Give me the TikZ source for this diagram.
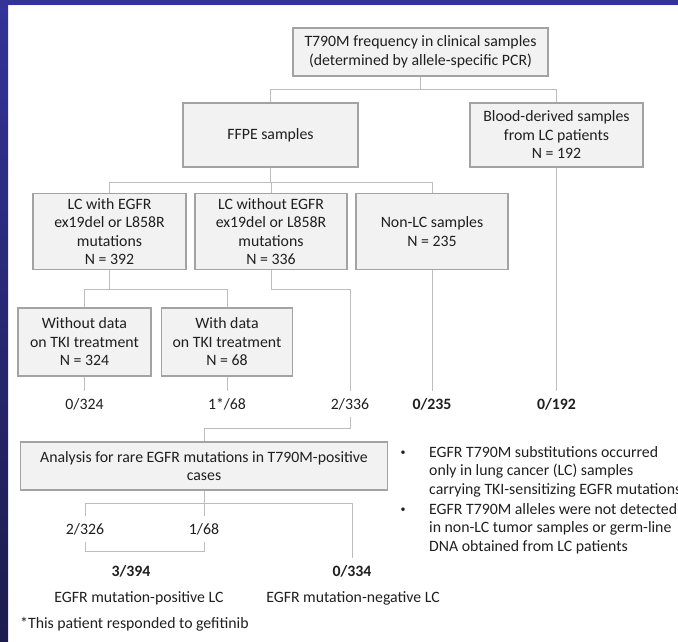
\documentclass[tikz,border=0pt]{standalone}
\usepackage{fontspec}
\setmainfont{Carlito}
\usepackage{xcolor}
\usepackage{tikz}
\usetikzlibrary{positioning, calc}
\definecolor{slideblue}{rgb}{0.20, 0.20, 0.60}
\definecolor{slidenavy}{rgb}{0.11, 0.11, 0.30}
\definecolor{boxgray}{rgb}{0.95, 0.95, 0.95}
\definecolor{edgegray}{rgb}{0.64, 0.64, 0.64}
\definecolor{linegray}{rgb}{0.74, 0.74, 0.74}
\definecolor{txtgray}{rgb}{0.12, 0.12, 0.12}

\begin{document}
\begin{tikzpicture}[x=1pt, y=-1pt, font=\fontsize{15.8}{18.5}\selectfont]
	\tikzstyle{stepbox}=[draw=edgegray, line width=1.3pt, fill=boxgray, text=txtgray, align=center, inner sep=0pt, minimum height=76pt, minimum width=152pt]
	\tikzstyle{link}=[draw=linegray, line width=1pt]
	\tikzstyle{count}=[text=txtgray, inner sep=0pt, outer sep=7.5pt]
	\tikzstyle{note}=[text=txtgray, inner sep=0pt, align=left]
	
	%% slide frame
	\useasboundingbox (0,0) rectangle (678,641);
	\fill[slideblue] (0,0) rectangle (678,5);
	\shade[top color=slideblue, bottom color=slidenavy] (0,0) rectangle (8,641);
	
	%% boxes
	\node [stepbox, minimum width=255pt, minimum height=48pt] (top) at (420.5,52) {T790M frequency in clinical samples\\(determined by allele-specific PCR)};
	\node [stepbox, minimum width=175pt, minimum height=64pt] (ffpe) at (270.5,135) {FFPE samples};
	\node [stepbox, minimum width=173pt, minimum height=64pt] (blood) at (556.5,135) {Blood-derived samples\\from LC patients\\N = 192};
	
	\node [stepbox, minimum width=153pt] (lcwith) at (109.5,231.5) {LC with EGFR\\ex19del or L858R\\mutations\\N = 392};
	\node [stepbox] (lcwo) at (271,231.5) {LC without EGFR\\ex19del or L858R\\mutations\\N = 336};
	\node [stepbox] (nonlc) at (432,231.5) {Non-LC samples\\N = 235};
	
	\node [stepbox, minimum width=133pt, minimum height=68pt] (nodata) at (84.5,342) {Without data\\on TKI treatment\\N = 324};
	\node [stepbox, minimum width=131pt, minimum height=68pt] (tkidata) at (227,342) {With data\\on TKI treatment\\N = 68};
	
	\node [stepbox, minimum width=367pt, minimum height=48pt] (analysis) at (204,466) {Analysis for rare EGFR mutations in T790M-positive\\cases};
	
	%% counts
	\foreach \nm/\x/\txt in {n324/84.5/{0/324}, n68/227/{1*/68}, n336/350/{2/336}}
		\node [count] (\nm) at (\x,404) {\txt};
	\node [count, font=\fontsize{15.8}{18.5}\selectfont\bfseries] (n235) at (432,404) {0/235};
	\node [count, font=\fontsize{15.8}{18.5}\selectfont\bfseries] (n192) at (556.5,404) {0/192};
	
	\node [count] (n326) at (85,529) {2/326};
	\node [count] (n68b) at (204,529) {1/68};
	\node [count, font=\fontsize{15.8}{18.5}\selectfont\bfseries] (n394) at (131,571) {3/394};
	\node [count, font=\fontsize{15.8}{18.5}\selectfont\bfseries] (n334) at (352,571) {0/334};
	\node [count, outer sep=0pt] (pos) at (139,598) {EGFR mutation-positive LC};
	\node [count, outer sep=0pt] (neg) at (353,598) {EGFR mutation-negative LC};
	\node [note, anchor=west] (foot) at (20,624) {*This patient responded to gefitinib};
	
	%% bullets
	\node [note, font=\fontsize{10}{12}\selectfont] (b1) at (403,453) {•};
	\node [note, font=\fontsize{10}{12}\selectfont] (b2) at (403,510) {•};
	\node [note, anchor=west] (t1) at (429,471.5) {EGFR T790M substitutions occurred\\only in lung cancer (LC) samples\\carrying TKI-sensitizing EGFR mutations};
	\node [note, anchor=west] (t2) at (429,528.5) {EGFR T790M alleles were not detected\\in non-LC tumor samples or germ-line\\DNA obtained from LC patients};
	
	%% connectors
	\draw [link] (top.south) -- ++(0,13) -| (ffpe.north);
	\draw [link] (top.south) -- ++(0,13) -| (blood.north);
	\foreach \y in {lcwith, lcwo, nonlc}
		\draw [link] (ffpe.south) -- ++(0,15) -| (\y.north);
	\draw [link] (lcwith.south) -- ++(0,19) -| (nodata.north);
	\draw [link] (lcwith.south) -- ++(0,19) -| (tkidata.north);
	\draw [link] (lcwo.south) -- ++(0,19) -| (n336.north);
	\draw [link] (nodata.south) -- (n324.north);
	\draw [link] (tkidata.south) -- (n68.north);
	\draw [link] (nonlc.south) -- (n235.north);
	\draw [link] (blood.south) -- (n192.north);
	\draw [link] (n336.south) -- ++(0,11) -| (analysis.north);
	\draw [link] (analysis.south) -- ++(0,13) -| (n326.north);
	\draw [link] (analysis.south) -- (n68b.north);
	\draw [link] (analysis.south) -- ++(0,13) -| (n334.north);
	\draw [link] (n326.south) -- ++(0,9) -| (n68b.south);
\end{tikzpicture}
\end{document}
